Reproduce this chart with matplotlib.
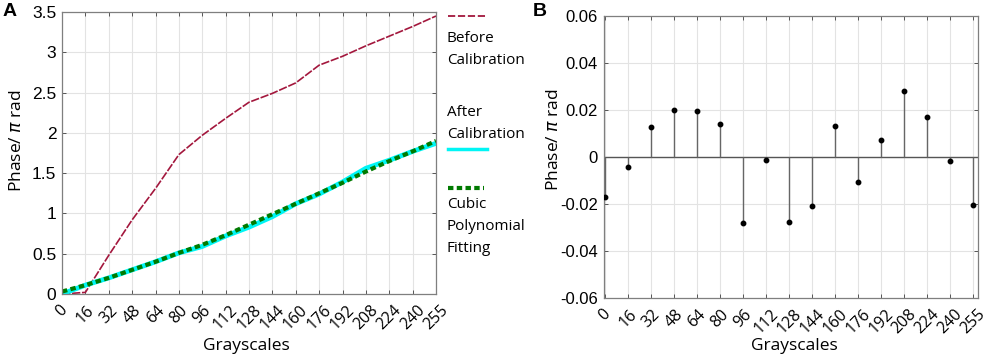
import matplotlib
matplotlib.use("Agg")
import matplotlib.pyplot as plt
import numpy as np
from matplotlib.lines import Line2D

grayscales = ["0", "16", "32", "48", "64", "80", "96", "112", "128", "144",
              "160", "176", "192", "208", "224", "240", "255"]
before_cal = [0.0, 0.02, 0.48, 0.92, 1.31, 1.73, 1.97, 2.18, 2.38, 2.49,
              2.62, 2.84, 2.95, 3.08, 3.20, 3.32, 3.45]
after_cal = [0.0, 0.11, 0.20, 0.30, 0.40, 0.51, 0.59, 0.72, 0.83, 0.96,
             1.12, 1.24, 1.39, 1.56, 1.66, 1.77, 1.87]
cubic_fit = [0.03, 0.11, 0.20, 0.30, 0.40, 0.51, 0.61, 0.73, 0.86, 0.99,
             1.12, 1.25, 1.38, 1.52, 1.65, 1.77, 1.90]
residual = [-0.0169, -0.0044, 0.0128, 0.0199, 0.0193, 0.0138, -0.0281, -0.0014,
            -0.0279, -0.0209, 0.0133, -0.0109, 0.0071, 0.0282, 0.0170, -0.0016, -0.0203]

yticksA = [0, 0.5, 1, 1.5, 2, 2.5, 3, 3.5]
yticklabelsA = ["0", "0.5", "1", "1.5", "2", "2.5", "3", "3.5"]
yticksB = [-0.06, -0.04, -0.02, 0, 0.02, 0.04, 0.06]
yticklabelsB = ["-0.06", "-0.04", "-0.02", "0", "0.02", "0.04", "0.06"]

W, H = 989, 359
fig = plt.figure(figsize=(W / 100, H / 100), dpi=100)

TICKFONT = "Liberation Sans"
LABFONT = "Open Sans"
spine_c = "#7f7f7f"
RED = "#a3173d"
CYAN = "#00f5f5"
GREEN = "#007a00"

def style(ax):
    for s in ax.spines.values():
        s.set_color(spine_c)
        s.set_linewidth(0.9)
    ax.tick_params(direction="in", length=3, width=0.7, color="#555555",
                   top=True, right=True, pad=4)
    ax.tick_params(axis="x", pad=6)
    ax.grid(True, color="#e3e3e3", linewidth=0.8)
    ax.set_axisbelow(True)

x = np.arange(len(grayscales))

# Panel A
axA = fig.add_axes([62 / W, 1 - 294 / H, 374 / W, 282 / H])
style(axA)
axA.plot(x, before_cal, color=RED, lw=1.2, ls=(0, (5, 1)))
axA.plot(x, after_cal, color=CYAN, lw=3.5, solid_capstyle="butt")
axA.plot(x, cubic_fit, color=GREEN, lw=3.0, ls=(0, (1.3, 0.8)))
axA.set_xlim(0, 16)
axA.set_ylim(0, 3.5)
axA.set_xticks(x)
axA.set_xticklabels(grayscales, rotation=45, ha="center", family=LABFONT, fontsize=11.5)
axA.set_yticks(yticksA)
axA.set_yticklabels(yticklabelsA, family=TICKFONT, fontsize=12.5)
axA.set_xlabel("Grayscales", family=LABFONT, fontsize=12.5)
axA.set_ylabel(r"Phase/ $\pi$ rad", family=LABFONT, fontsize=12.5)
axA.yaxis.set_label_coords((17.5 - 62) / 374, (294 - 141) / 282)
axA.xaxis.set_label_coords((246 - 62) / 374, -(346 - 294) / 282)
axA.xaxis.label.set_va("center")
axA.yaxis.label.set_va("center")

# Panel B
wB = 978 - 603.5
hB = 298 - 15.7
axB = fig.add_axes([603.5 / W, 1 - 298 / H, wB / W, hB / H])
style(axB)
axB.axhline(0, color="#555555", lw=1.0, zorder=2)
axB.vlines(x, 0, residual, color="#666666", lw=1.0, zorder=3)
axB.plot(x, residual, "o", color="black", ms=3.2, zorder=4)
axB.set_xlim(-0.06, 16.2)
axB.set_ylim(-0.06, 0.06)
axB.set_xticks(x)
axB.set_xticklabels(grayscales, rotation=45, ha="center", family=LABFONT, fontsize=11.5)
axB.set_yticks(yticksB)
axB.set_yticklabels(yticklabelsB, family=TICKFONT, fontsize=12)
axB.set_xlabel("Grayscales", family=LABFONT, fontsize=12.5)
axB.set_ylabel(r"Phase/ $\pi$ rad", family=LABFONT, fontsize=12.5)
axB.yaxis.set_label_coords((554 - 603.5) / wB, (298 - 140) / hB)
axB.xaxis.set_label_coords((794 - 603.5) / wB, -(346 - 298) / hB)
axB.xaxis.label.set_va("center")
axB.yaxis.label.set_va("center")

# Custom legend
def fx(px):
    return px / W

def fy(py):
    return 1 - py / H

fig.add_artist(Line2D([fx(448), fx(487)], [fy(15.7), fy(15.7)], color=RED,
                      lw=1.3, ls=(0, (4, 1.5))))
fig.add_artist(Line2D([fx(448), fx(487)], [fy(149.5), fy(149.5)], color=CYAN, lw=2.5))
fig.add_artist(Line2D([fx(448), fx(484)], [fy(188), fy(188)], color=GREEN,
                      lw=3.0, ls=(0, (1.3, 0.8))))
legend_text = [("Before", 39), ("Calibration", 61), ("After", 113), ("Calibration", 134),
               ("Cubic", 204), ("Polynomial", 227), ("Fitting", 248)]
for t, py in legend_text:
    fig.text(fx(447), fy(py), t, family=LABFONT, fontsize=11, va="center", ha="left")

fig.text(fx(3), fy(11), "A", family="Liberation Sans", fontsize=14, weight="bold", va="center")
fig.text(fx(533), fy(11), "B", family="Liberation Sans", fontsize=14, weight="bold", va="center")

fig.savefig("out.png", dpi=100)
